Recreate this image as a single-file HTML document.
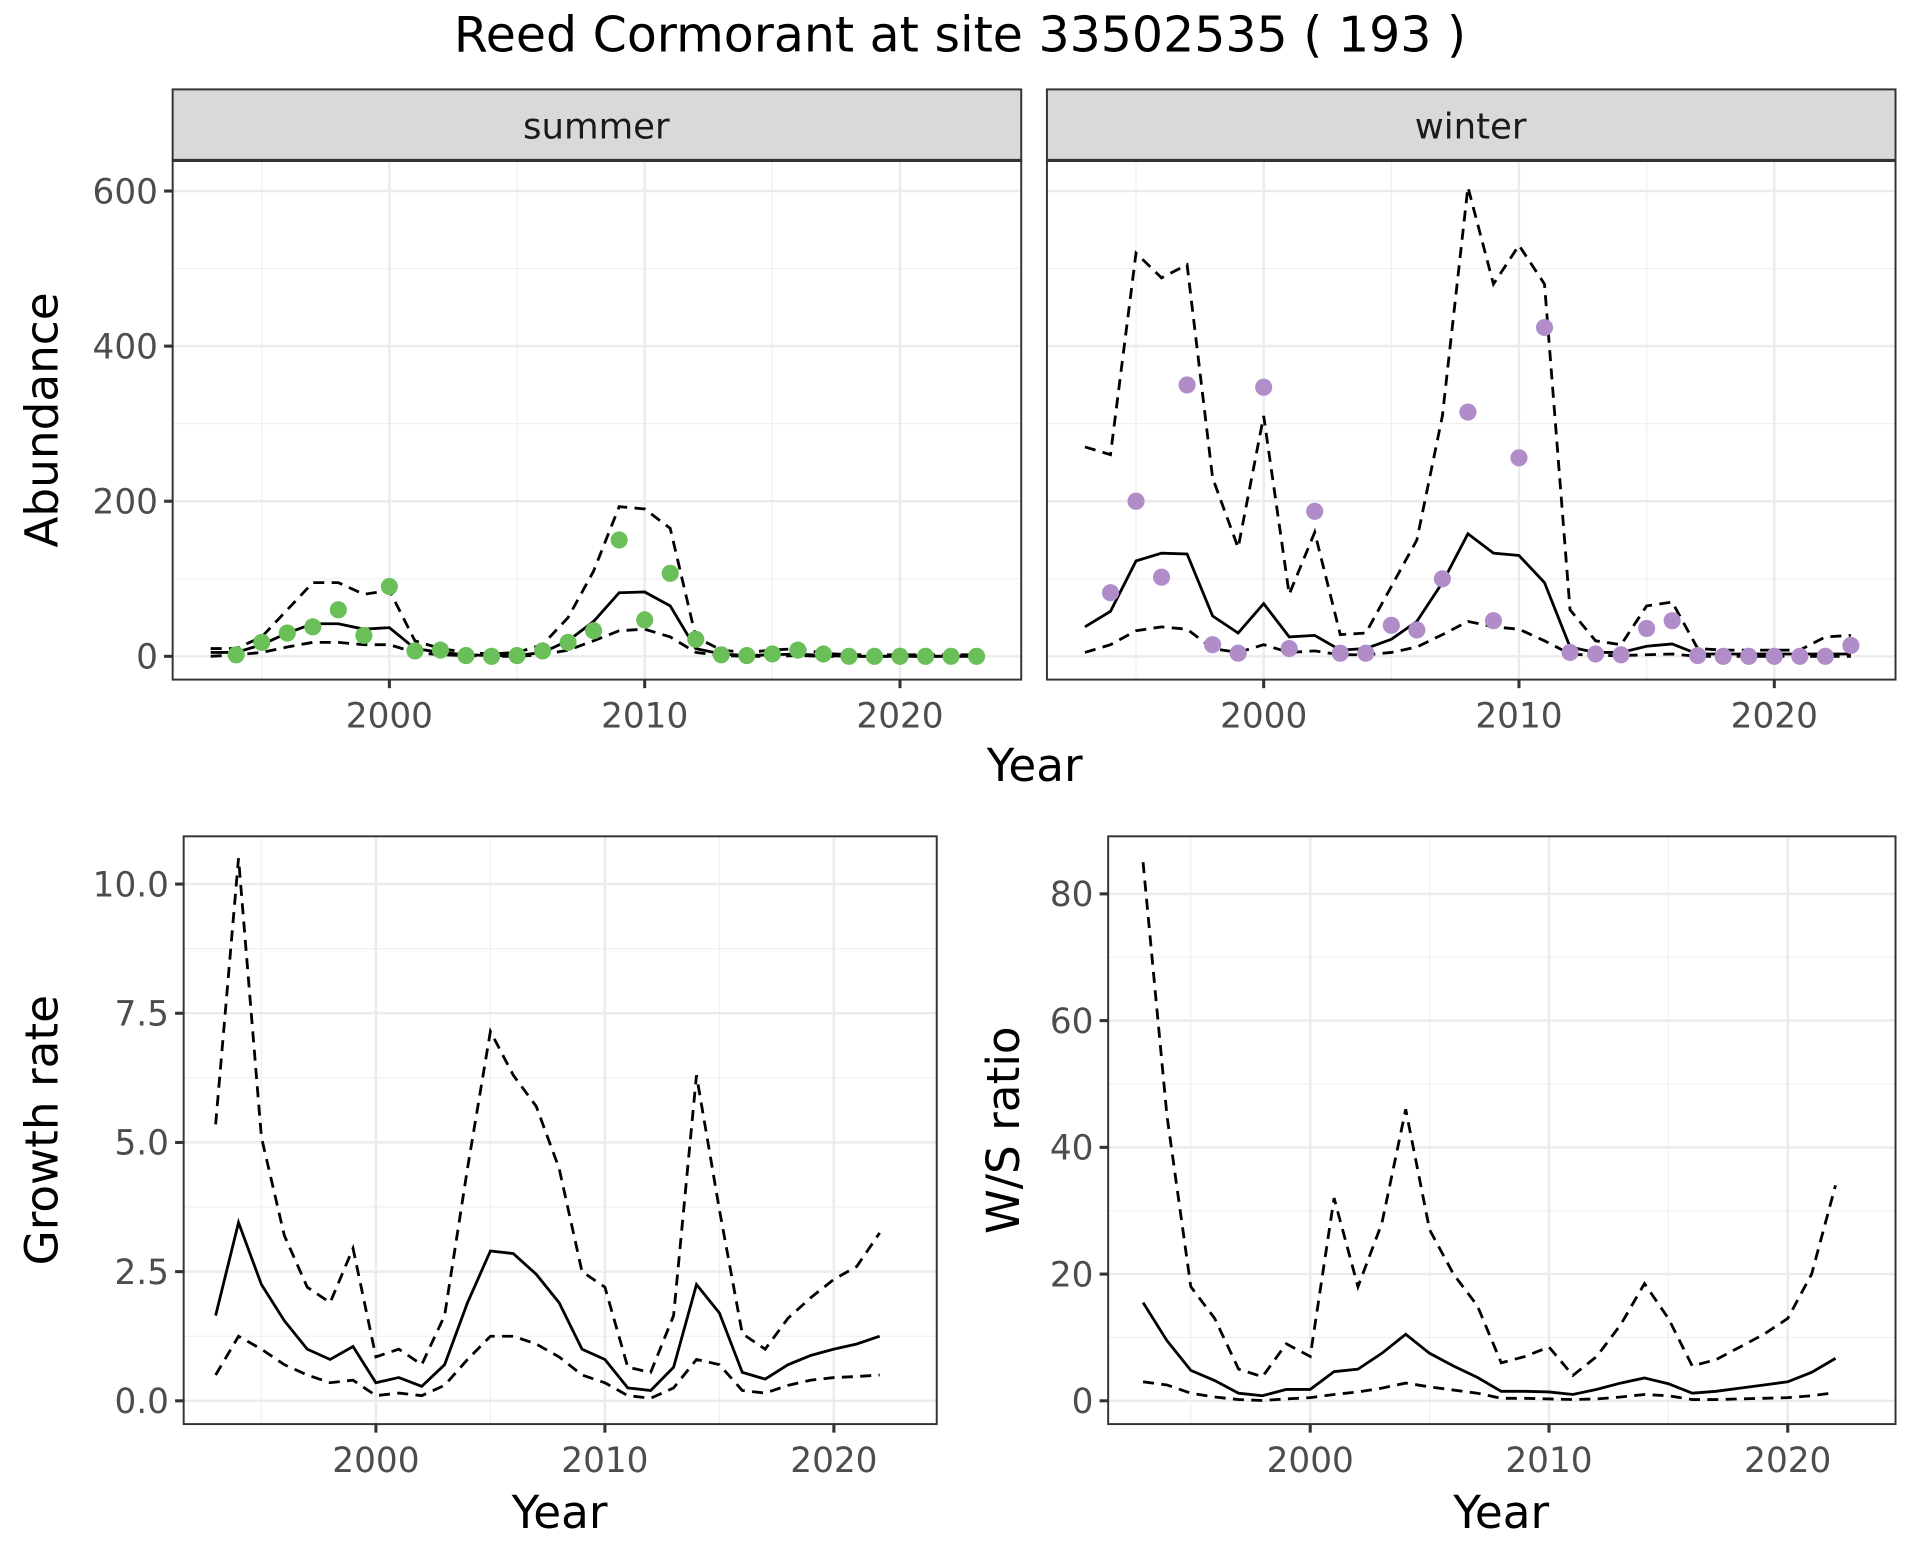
<!DOCTYPE html>
<html><head><meta charset="utf-8"><style>
html,body{margin:0;padding:0;background:#fff;}
svg{display:block;font-family:"DejaVu Sans","Liberation Sans",sans-serif;}
</style></head><body>
<svg id="s" width="1920" height="1560" viewBox="0 0 1568 1274" xmlns="http://www.w3.org/2000/svg">
<rect width="1568" height="1274" fill="#fff"/>
<text x="784" y="42" font-size="40" text-anchor="middle">Reed Cormorant at site 33502535 ( 193 )</text>
</svg>
<script>
const S=document.getElementById('s');let out='';
function P(p){
 const {x0,x1,y0,y1,xa,xb,ya,yb,ymaj,ymin,yfmt}=p;
 const X=v=>xa[1]+(v-xa[0])*(xb[1]-xa[1])/(xb[0]-xa[0]);
 const Y=v=>ya[1]+(v-ya[0])*(yb[1]-ya[1])/(yb[0]-ya[0]);
 out+=`<rect x="${x0}" y="${y0}" width="${x1-x0}" height="${y1-y0}" fill="#fff"/>`;
 ymin.forEach(v=>{out+=`<line x1="${x0}" x2="${x1}" y1="${Y(v)}" y2="${Y(v)}" stroke="#f0f0f0" stroke-width="1"/>`});
 [1995,2005,2015].forEach(v=>{out+=`<line y1="${y0}" y2="${y1}" x1="${X(v)}" x2="${X(v)}" stroke="#f0f0f0" stroke-width="1"/>`});
 ymaj.forEach(v=>{out+=`<line x1="${x0}" x2="${x1}" y1="${Y(v)}" y2="${Y(v)}" stroke="#ebebeb" stroke-width="2"/>`;
  if(p.ylab)out+=`<text x="${x0-12}" y="${Y(v)+10}" font-size="28" fill="#4d4d4d" text-anchor="end">${yfmt(v)}</text><line x1="${x0-7}" x2="${x0}" y1="${Y(v)}" y2="${Y(v)}" stroke="#333" stroke-width="2.5"/>`;});
 [2000,2010,2020].forEach(v=>{out+=`<line y1="${y0}" y2="${y1}" x1="${X(v)}" x2="${X(v)}" stroke="#ebebeb" stroke-width="2"/><line y1="${y1}" y2="${y1+7}" x1="${X(v)}" x2="${X(v)}" stroke="#333" stroke-width="2.5"/><text x="${X(v)}" y="${y1+39}" font-size="28" fill="#4d4d4d" text-anchor="middle">${v}</text>`});
 const line=(arr,st,dash)=>{out+=`<polyline fill="none" stroke="#000" stroke-width="2.3" ${dash?'stroke-dasharray="9,6"':''} points="${arr.map((v,i)=>X(st+i)+','+Y(v)).join(' ')}"/>`};
 line(p.up,p.st,1);line(p.lo,p.st,1);line(p.mid,p.st,0);
 if(p.pts)p.pts.forEach((v,i)=>{out+=`<circle cx="${X(1994+i)}" cy="${Y(v)}" r="7" fill="${p.col}"/>`});
 out+=`<rect x="${x0}" y="${y0}" width="${x1-x0}" height="${y1-y0}" fill="none" stroke="#333" stroke-width="1.6"/>`;
}
const sp={up:[10,10,25,60,95,95,80,85,20,10,5,3,5,15,50,110,193,190,165,25,8,5,8,10,4,2,2,2,2,2,2],
 mid:[5,5,15,30,42,42,35,37,10,5,2,1,1,5,20,45,82,83,65,10,3,1,2,3,1,0,0,0,0,0,0],
 lo:[0,2,5,12,18,18,15,15,5,2,1,0,0,2,8,20,33,35,25,5,1,0,0,1,0,0,0,0,0,0,0],
 pts:[2,18,30,38,60,27,90,7,8,1,0,1,7,18,33,150,47,107,22,2,1,3,8,3,0,0,0,0,0,0]};
const wi={up:[270,260,520,488,505,230,140,310,80,160,28,30,90,150,310,605,480,530,480,60,20,15,65,70,10,8,8,8,8,25,27],
 mid:[38,58,123,133,132,52,30,68,25,27,8,10,22,45,95,158,133,130,95,12,5,5,13,16,3,3,3,3,3,3,3],
 lo:[5,15,33,38,35,10,5,15,5,7,2,2,5,12,28,45,38,35,20,3,1,1,2,3,0,0,0,0,0,0,0],
 pts:[82,200,102,350,15,4,347,10,187,4,4,40,34,100,315,46,256,424,5,3,2,36,46,1,0,0,0,0,0,14]};
const yA=[0,536],yB=[600,156];
P(Object.assign({x0:141,x1:834,y0:131,y1:555,xa:[2000,318],xb:[2020,735],ya:yA,yb:yB,ymaj:[0,200,400,600],ymin:[100,300,500],yfmt:v=>v,ylab:1,st:1993,col:'#6abf59'},sp));
P(Object.assign({x0:855,x1:1548,y0:131,y1:555,xa:[2000,1032],xb:[2020,1449],ya:yA,yb:yB,ymaj:[0,200,400,600],ymin:[100,300,500],yfmt:v=>v,ylab:0,st:1993,col:'#b08cc8'},wi));
out+=`<rect x="141" y="73" width="693" height="58" fill="#d9d9d9" stroke="#333" stroke-width="1.6"/><line x1="141" x2="834" y1="131" y2="131" stroke="#333" stroke-width="2.5"/><text x="487" y="113" font-size="29" text-anchor="middle" fill="#1a1a1a">summer</text>`;
out+=`<rect x="855" y="73" width="693" height="58" fill="#d9d9d9" stroke="#333" stroke-width="1.6"/><line x1="855" x2="1548" y1="131" y2="131" stroke="#333" stroke-width="2.5"/><text x="1201" y="113" font-size="29" text-anchor="middle" fill="#1a1a1a">winter</text>`;
P({x0:150,x1:765,y0:683,y1:1163,xa:[2000,307],xb:[2020,681],ya:[0,1144],yb:[10,722],ymaj:[0,2.5,5,7.5,10],ymin:[1.25,3.75,6.25,8.75],yfmt:v=>v.toFixed(1),ylab:1,st:1993,
 mid:[1.65,3.45,2.25,1.55,1.0,0.8,1.05,0.35,0.45,0.28,0.7,1.9,2.9,2.85,2.45,1.9,1.0,0.8,0.25,0.2,0.65,2.25,1.7,0.55,0.42,0.7,0.88,1.0,1.1,1.25],
 up:[5.35,10.5,5.1,3.2,2.2,1.9,2.95,0.85,1.0,0.7,1.65,4.5,7.15,6.3,5.7,4.5,2.5,2.2,0.65,0.55,1.65,6.3,3.7,1.3,1.0,1.6,2.0,2.35,2.6,3.25],
 lo:[0.5,1.25,1.0,0.7,0.5,0.35,0.4,0.1,0.15,0.1,0.3,0.8,1.25,1.25,1.1,0.85,0.5,0.35,0.1,0.05,0.25,0.8,0.7,0.2,0.15,0.3,0.4,0.45,0.47,0.5]});
P({x0:905,x1:1548,y0:683,y1:1163,xa:[2000,1070],xb:[2020,1460],ya:[0,1144],yb:[80,730],ymaj:[0,20,40,60,80],ymin:[10,30,50,70],yfmt:v=>v,ylab:1,st:1993,
 mid:[15.5,9.5,4.8,3.2,1.2,0.8,1.8,1.8,4.6,5.0,7.5,10.5,7.5,5.5,3.7,1.5,1.5,1.4,1.0,1.8,2.8,3.6,2.7,1.2,1.5,2.0,2.5,3.0,4.5,6.7],
 up:[85,45,18,13,5,3.8,9,7,32,18,28,46,27,20,15,6,7,8.5,4,7,12,18.5,13,5.5,6.5,8.5,10.5,13,20,34],
 lo:[3,2.5,1.2,0.6,0.2,0.05,0.3,0.5,1,1.4,2,2.8,2.2,1.7,1.2,0.4,0.4,0.3,0.2,0.3,0.6,1,0.8,0.2,0.2,0.3,0.4,0.5,0.8,1.3]});
out+=`<text x="845" y="638" font-size="37" text-anchor="middle">Year</text>`;
out+=`<text x="457" y="1248" font-size="37" text-anchor="middle">Year</text>`;
out+=`<text x="1226" y="1248" font-size="37" text-anchor="middle">Year</text>`;
out+=`<text transform="translate(47,343) rotate(-90)" font-size="37" text-anchor="middle">Abundance</text>`;
out+=`<text transform="translate(47,923) rotate(-90)" font-size="37" text-anchor="middle">Growth rate</text>`;
out+=`<text transform="translate(832,923) rotate(-90)" font-size="37" text-anchor="middle">W/S ratio</text>`;
S.insertAdjacentHTML('beforeend',out);
</script>
</body></html>
